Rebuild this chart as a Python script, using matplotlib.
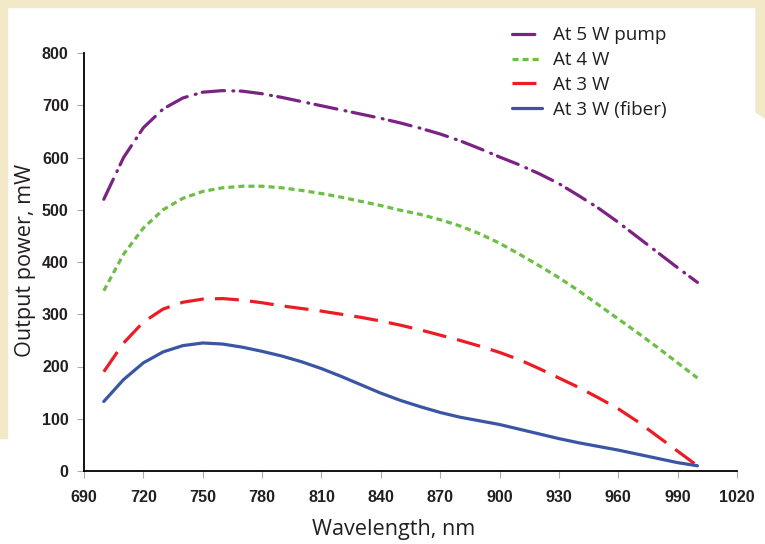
import matplotlib.pyplot as plt
from matplotlib.patches import Rectangle, Polygon

# data, step 10 nm
wavelength = list(range(700, 1001, 10))
p_5w = [520, 600, 657, 693, 714, 725, 728, 727, 722, 715, 707, 699, 691, 683, 675, 666,
        656, 645, 632, 617, 601, 586, 569, 550, 527, 503, 476, 447, 418, 389, 361]
p_4w = [345, 415, 465, 500, 522, 535, 542, 545, 545, 542, 537, 531, 524, 516, 508, 499,
        491, 481, 469, 454, 436, 415, 393, 370, 345, 318, 291, 264, 236, 207, 178]
p_3w = [190, 245, 285, 310, 323, 329, 330, 327, 322, 316, 311, 306, 300, 294, 287, 279,
        270, 260, 250, 239, 227, 213, 196, 178, 160, 140, 119, 94, 66, 38, 10]
p_3w_fiber = [133, 175, 207, 228, 240, 245, 243, 237, 229, 220, 209, 196, 181, 165, 149, 135,
              123, 112, 103, 96, 89, 80, 71, 62, 54, 47, 40, 32, 24, 16, 10]

labels = ['At 5 W pump', 'At 4 W', 'At 3 W', 'At 3 W (fiber)']
colors = ['#7B2382', '#6DBE45', '#ED1C24', '#3A55A4']

W, H = 765, 544
fig = plt.figure(figsize=(W / 100, H / 100), dpi=100)
fig.patch.set_facecolor('white')

# beige page frame behind the white card
beige = '#F2E9C8'
fig.patches.append(Rectangle((0, 1 - 7 / H), 1, 7 / H, transform=fig.transFigure,
                             color=beige, zorder=0))
fig.patches.append(Rectangle((0, 1 - 438 / H), 7 / W, 438 / H, transform=fig.transFigure,
                             color=beige, zorder=0))
fig.patches.append(Polygon([(756 / W, 1), (1, 1), (1, 1 - 118 / H), (756 / W, 1 - 112 / H)],
                           closed=True, transform=fig.transFigure, color=beige, zorder=0))

ax = fig.add_axes([84 / W, 1 - 471 / H, (737 - 84) / W, (471 - 53) / H])
ax.set_facecolor('none')

lw = 2.3
ax.plot(wavelength, p_5w, color=colors[0], lw=lw, label=labels[0],
        dashes=(7.0, 2.6, 0.3, 2.0), dash_capstyle='round')
ax.plot(wavelength, p_4w, color=colors[1], lw=lw, label=labels[1],
        dashes=(1.9, 1.25), dash_capstyle='butt')
ax.plot(wavelength, p_3w, color=colors[2], lw=lw, label=labels[2],
        dashes=(7.5, 3.5), dash_capstyle='butt')
ax.plot(wavelength, p_3w_fiber, color=colors[3], lw=lw, label=labels[3],
        solid_capstyle='round')

ax.set_xlim(690, 1020)
ax.set_ylim(0, 800)
ax.set_xticks(range(690, 1021, 30))
ax.set_yticks(range(0, 801, 100))

for s in ['top', 'right']:
    ax.spines[s].set_visible(False)
for s in ['left', 'bottom']:
    ax.spines[s].set_color('black')
    ax.spines[s].set_linewidth(1.3)

ax.tick_params(axis='both', direction='out', length=5, width=0.8, color='#AAAAAA',
               labelcolor='#231F20')
ax.tick_params(axis='x', pad=9)
ax.tick_params(axis='y', pad=6)
for t in ax.get_xticklabels() + ax.get_yticklabels():
    t.set_fontfamily('Liberation Sans')
    t.set_fontweight('bold')
    t.set_fontsize(11.6)

ax.set_xlabel('Wavelength, nm', fontfamily='Open Sans', fontsize=15.6, color='#231F20')
ax.set_ylabel('Output power, mW', fontfamily='Open Sans', fontsize=15.6, color='#231F20')
ax.xaxis.set_label_coords((394 - 84) / 653, -(529 - 471) / 418)
ax.yaxis.set_label_coords((25 - 84) / 653, (471 - 260) / 418)
ax.xaxis.label.set_va('center')
ax.yaxis.label.set_va('center')

leg = ax.legend(loc='upper left', bbox_to_anchor=(503 / W, 1 - 17 / H),
                bbox_transform=fig.transFigure, frameon=False,
                prop={'family': 'Open Sans', 'size': 13.6},
                handlelength=1.55, handletextpad=0.58, labelspacing=0.36, borderpad=0)
for t in leg.get_texts():
    t.set_color('#231F20')

fig.savefig('out.png', dpi=100)
